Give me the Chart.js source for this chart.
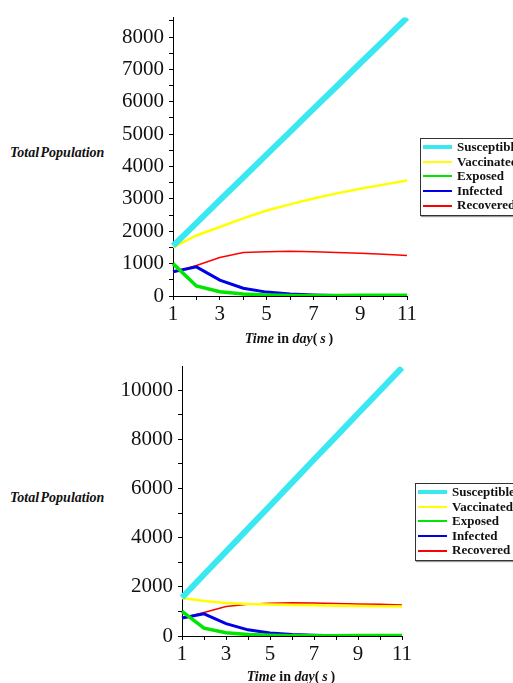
<!DOCTYPE html>
<html lang="en">
<head>
    <meta charset="UTF-8">
    <title>Population curves</title>
    <script src="https://cdn.jsdelivr.net/npm/chart.js"></script>
    <style>
        body {
            margin: 0;
            width: 513px;
            height: 683px;
            background: #fff;
            font-family: "Liberation Serif", "DejaVu Serif", serif;
            position: relative;
            overflow: hidden;
        }
        canvas, .ytitle, .xtitle, .legend {
            position: absolute;
        }
        .ytitle {
            font-weight: bold;
            font-style: italic;
            font-size: 14px;
            word-spacing: -2px;
            color: #111;
            white-space: nowrap;
        }
        .xtitle {
            font-weight: bold;
            font-size: 14px;
            color: #111;
            white-space: nowrap;
            transform: translateX(-50%);
        }
        .xtitle i { font-style: italic; }
        .legend {
            border: 1px solid #333;
            box-shadow: 1px 1px 1px #999;
            background: #fff;
            padding: 1px 0 2px 2px;
            font-weight: bold;
            font-size: 13px;
            color: #111;
            white-space: nowrap;
            overflow: hidden;
        }
        .legend div {
            height: 14.6px;
            line-height: 14.6px;
            display: flex;
            align-items: center;
        }
        .legend span.sw {
            display: inline-block;
            width: 29px;
            margin-right: 5px;
        }
    </style>
</head>
<body>
    <canvas id="chartTop" width="309" height="336" style="left:113px;top:0px"></canvas>
    <canvas id="chartBottom" width="295" height="327" style="left:122px;top:349px"></canvas>

    <div class="ytitle" style="left:10px;top:145px">Total Population</div>
    <div class="ytitle" style="left:10px;top:490px">Total Population</div>
    <div class="xtitle" style="left:289px;top:331px"><i>Time</i> in <i>day</i>(&thinsp;<i>s</i>&thinsp;)</div>
    <div class="xtitle" style="left:291px;top:669px"><i>Time</i> in <i>day</i>(&thinsp;<i>s</i>&thinsp;)</div>

    <div class="legend" id="legendTop" style="left:420px;top:138px;width:100px"></div>
    <div class="legend" id="legendBottom" style="left:415px;top:483px;width:100px"></div>

    <script>
    // days
    const days = [1, 2, 3, 4, 5, 6, 7, 8, 9, 10, 11];

    const seriesNames = ['Susceptible', 'Vaccinated', 'Exposed', 'Infected', 'Recovered'];
    const seriesColors = ['#3ae8f2', '#ffff00', '#00e600', '#0000e6', '#ff0000'];
    const lineWidths = [6, 2.5, 3.5, 3, 1.5];

    // upper plot
    const susceptibleTop = [1550, 2250, 2960, 3660, 4370, 5070, 5780, 6480, 7190, 7890, 8600];
    const vaccinatedTop  = [1500, 1870, 2130, 2400, 2640, 2830, 3010, 3170, 3310, 3440, 3570];
    const exposedTop     = [1000, 310, 130, 60, 30, 15, 10, 15, 20, 20, 25];
    const infectedTop    = [750, 900, 490, 240, 120, 60, 30, 15, 8, 4, 2];
    const recoveredTop   = [730, 940, 1190, 1340, 1370, 1380, 1370, 1340, 1320, 1290, 1250];
    const yTicksTop = [0, 500, 1000, 1500, 2000, 2500, 3000, 3500, 4000, 4500, 5000, 5500, 6000, 6500, 7000, 7500, 8000, 8500];

    // lower plot
    const susceptibleBottom = [1560, 2500, 3430, 4370, 5300, 6240, 7180, 8110, 9050, 9980, 10920];
    const vaccinatedBottom  = [1550, 1420, 1340, 1300, 1280, 1260, 1250, 1230, 1220, 1210, 1200];
    const exposedBottom     = [1000, 320, 130, 60, 30, 15, 10, 15, 20, 20, 25];
    const infectedBottom    = [730, 900, 500, 250, 120, 60, 30, 15, 8, 4, 2];
    const recoveredBottom   = [730, 960, 1200, 1290, 1330, 1350, 1340, 1320, 1300, 1290, 1260];
    const yTicksBottom = [0, 1000, 2000, 3000, 4000, 5000, 6000, 7000, 8000, 9000, 10000];

    function buildLegend(id) {
        const box = document.getElementById(id);
        seriesNames.forEach(function (name, i) {
            const row = document.createElement('div');
            const sw = document.createElement('span');
            sw.className = 'sw';
            sw.style.borderTop = Math.max(2, Math.round(lineWidths[i] * 0.7)) + 'px solid ' + seriesColors[i];
            row.appendChild(sw);
            row.appendChild(document.createTextNode(name));
            box.appendChild(row);
        });
    }

    function makeChart(canvasId, series, yMax, yTicks, majorStep) {
        const datasets = series.map(function (values, i) {
            return {
                label: seriesNames[i],
                data: values,
                borderColor: seriesColors[i],
                backgroundColor: seriesColors[i],
                borderWidth: lineWidths[i],
                pointRadius: 0,
                tension: 0,
                fill: false
            };
        });

        return new Chart(document.getElementById(canvasId), {
            type: 'line',
            data: { labels: days, datasets: datasets },
            options: {
                responsive: false,
                animation: false,
                layout: { padding: { top: 13, right: 15, left: 0, bottom: 0 } },
                plugins: { legend: { display: false }, tooltip: { enabled: false } },
                scales: {
                    x: {
                        offset: false,
                        grid: { drawOnChartArea: false, tickLength: 4, color: '#000' },
                        border: { color: '#000', width: 1 },
                        ticks: {
                            autoSkip: false,
                            maxRotation: 0,
                            padding: 2,
                            color: '#111',
                            font: { family: 'Liberation Serif', size: 21 },
                            callback: function (val, idx) {
                                return idx % 2 === 0 ? days[idx] : '';
                            }
                        },
                        afterFit: function (scale) { scale.height = 40; }
                    },
                    y: {
                        min: 0,
                        max: yMax,
                        grid: { drawOnChartArea: false, tickLength: 4, color: '#000' },
                        border: { color: '#000', width: 1 },
                        ticks: {
                            autoSkip: false,
                            padding: 5,
                            color: '#111',
                            font: { family: 'Liberation Serif', size: 21 },
                            callback: function (v) {
                                return v % majorStep === 0 ? v : '';
                            }
                        },
                        afterBuildTicks: function (scale) {
                            scale.ticks = yTicks.map(function (v) { return { value: v }; });
                        },
                        afterFit: function (scale) { scale.width = 60; }
                    }
                }
            }
        });
    }

    makeChart('chartTop',
        [susceptibleTop, vaccinatedTop, exposedTop, infectedTop, recoveredTop],
        8600, yTicksTop, 1000);
    makeChart('chartBottom',
        [susceptibleBottom, vaccinatedBottom, exposedBottom, infectedBottom, recoveredBottom],
        10960, yTicksBottom, 2000);

    buildLegend('legendTop');
    buildLegend('legendBottom');
    </script>
</body>
</html>
